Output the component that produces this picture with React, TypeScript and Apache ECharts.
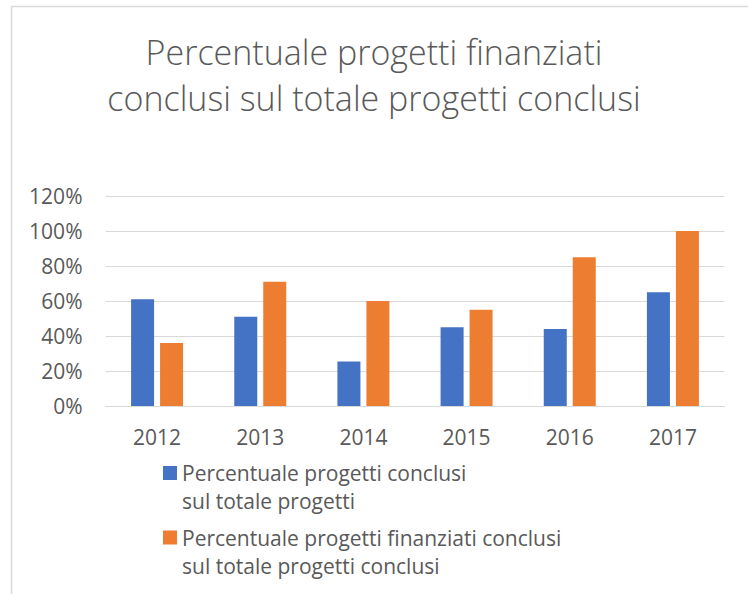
import React, { useEffect, useRef } from "react";
import * as echarts from "echarts";

const categories = ["2012", "2013", "2014", "2015", "2016", "2017"];
const seriesNames = [
  "Percentuale progetti conclusi sul totale progetti",
  "Percentuale progetti finanziati conclusi sul totale progetti conclusi",
];
const legendLabels = [
  "Percentuale progetti conclusi\nsul totale progetti",
  "Percentuale progetti finanziati conclusi\nsul totale progetti conclusi",
];
const conclusi = [61, 51, 25.5, 45, 44, 65];
const finanziati = [36, 71, 60, 55, 85, 100];
const titleText = "Percentuale progetti finanziati\nconclusi sul totale progetti conclusi";

const FONT = "Open Sans";
const TEXT = "#595959";

export default function App() {
  const ref = useRef<HTMLDivElement>(null);
  useEffect(() => {
    document.body.style.margin = "0";
    const chart = echarts.init(ref.current!, null, { renderer: "svg" });
    const L = 28;
    chart.setOption({
      animation: false,
      backgroundColor: "#ffffff",
      title: {
        text: titleText,
        left: "center",
        top: 24,
        textStyle: { fontFamily: FONT, fontSize: 34, fontWeight: 300, color: TEXT, lineHeight: 46 },
      },
      graphic: [
        {
          type: "rect",
          shape: { x: 11.5, y: 6.5, width: 900, height: 800 },
          style: { fill: "none", stroke: "#d9d9d9", lineWidth: 1.5 },
          silent: true,
        },
      ],
      grid: { left: 105.5, right: 23.5, top: 196, bottom: 188, containLabel: false },
      xAxis: {
        type: "category",
        data: categories,
        axisLine: { lineStyle: { color: "#d9d9d9", width: 1 } },
        axisTick: { show: false },
        axisLabel: { fontFamily: FONT, fontSize: 21, color: TEXT, margin: 20 },
      },
      yAxis: {
        type: "value",
        min: 0,
        max: 120,
        interval: 20,
        axisLine: { show: false },
        axisTick: { show: false },
        splitLine: { lineStyle: { color: "#d9d9d9", width: 1 } },
        axisLabel: { fontFamily: FONT, fontSize: 21, color: TEXT, margin: 23, formatter: "{value}%" },
      },
      legend: [0, 1].map((i) => ({
        data: [seriesNames[i]],
        left: 163,
        top: i === 0 ? 431 : 495.5,
        padding: 0,
        itemWidth: 14,
        itemHeight: 14,
        icon: "rect",
        selectedMode: false,
        formatter: () => "\n" + legendLabels[i],
        textStyle: { fontFamily: FONT, fontSize: 21, color: TEXT, lineHeight: L },
      })),
      series: [
        {
          name: seriesNames[0],
          type: "bar",
          data: conclusi,
          itemStyle: { color: "#4472C4" },
          barWidth: "22.3%",
          barGap: "26%",
        },
        {
          name: seriesNames[1],
          type: "bar",
          data: finanziati,
          itemStyle: { color: "#ED7D31" },
          barWidth: "22.3%",
          barGap: "26%",
        },
      ],
    });
    return () => chart.dispose();
  }, []);
  return <div ref={ref} style={{ position: "fixed", left: 0, top: 0, width: 748, height: 594 }} />;
}
